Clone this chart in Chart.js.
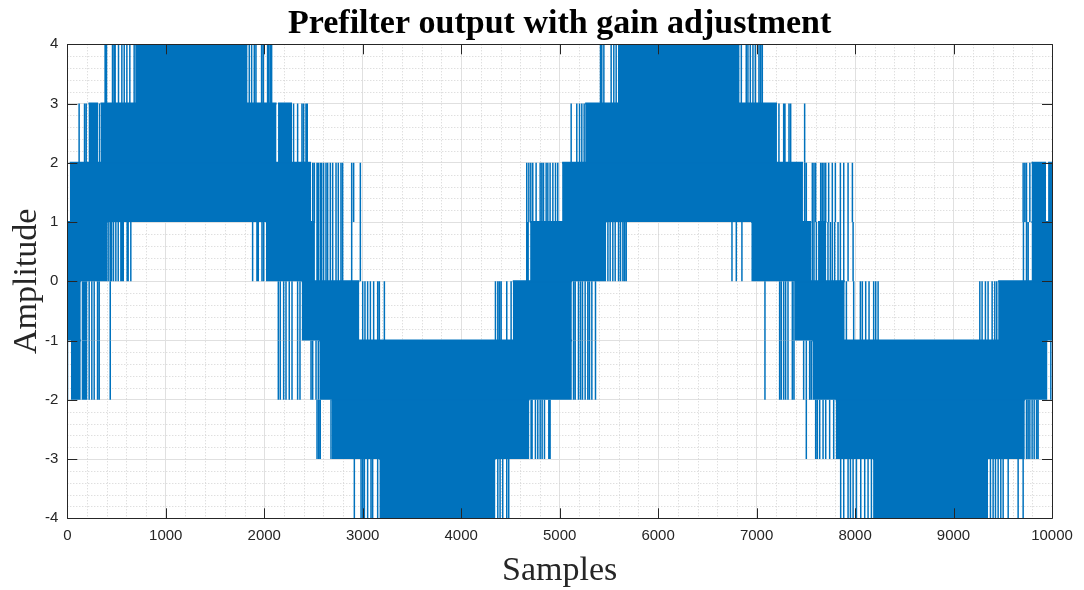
<!DOCTYPE html>
<html>
<head>
<meta charset="utf-8">
<script src="https://cdn.jsdelivr.net/npm/chart.js@4.4.0/dist/chart.umd.min.js"></script>
<style>
  body { margin: 0; background: #fff; }
</style>
</head>
<body>
<canvas id="prefilter" width="1084" height="590"></canvas>
<script>
// Quantised prefilter output, split per unit step of the quantiser.
// fillXX  : sample ranges where the signal toggles so fast the step is solid
// spikeXX : single samples that jump across the step at the edges of a run
const fillP3 = [[689, 1831], [5591, 6828]];
const spikeP3 = [384, 398, 459, 476, 486, 520, 554, 578, 605, 635, 679,
  1848, 1872, 1899, 1916, 1973, 1990, 2034, 2044, 2061, 2075,
  5415, 5428, 5449, 5523, 5550, 5574,
  6845, 6895, 6912, 6936, 6963, 6987, 7024, 7041, 7058];

const fillP2 = [[215, 313], [337, 2125], [2140, 2282], [5259, 7207]];
const spikeP2 = [120, 175, 192, 327,
  2298, 2339, 2383, 2400, 2424, 2437,
  5117, 5174, 5202, 5225, 5249,
  7227, 7275, 7288, 7329, 7346, 7488];

const fillP1 = [[25, 2475], [5025, 7471], [9792, 9940], [9960, 10000]];
const spikeP1 = [2492, 2509, 2536, 2549, 2569, 2583, 2603, 2627, 2644, 2671, 2695,
  2729, 2752, 2779, 2796, 2888, 2908, 2976,
  4666, 4687, 4707, 4727, 4761, 4802, 4819, 4836, 4863, 4880, 4903, 4931, 4958, 4981,
  7488, 7505, 7566, 7583, 7600, 7651, 7668, 7685, 7702, 7732, 7769, 7800, 7851,
  7885, 7929, 7973,
  9707, 9724, 9741, 9775];

const fill0 = [[0, 408], [2017, 2515], [4700, 5473], [6946, 7556], [7624, 7708], [9792, 10000]];
const spike0 = [415, 435, 449, 469, 493, 517, 544, 554, 568, 608, 618, 645,
  1882, 1926, 1939, 1977, 1994,
  2536, 2549, 2569, 2583, 2603, 2627, 2644, 2671, 2695, 2729, 2752, 2779, 2796, 2888, 2976,
  4666, 4680,
  5490, 5513, 5540, 5564, 5598, 5618, 5642, 5659, 5676,
  6750, 6794, 6851,
  7566, 7583, 7607, 7725, 7749, 7769, 7793, 7827, 7851, 7885, 7929, 7980,
  9710, 9741, 9758];

const fillN1 = [[2, 137], [2380, 2966], [4524, 5124], [7387, 7895], [9453, 10000]];
const spikeN1 = [154, 168, 181, 195, 222, 249, 273, 307, 324, 436,
  2143, 2163, 2197, 2221, 2254, 2282, 2339, 2363,
  3000, 3023, 3050, 3078, 3111, 3152, 3169, 3220,
  4348, 4372, 4389, 4406, 4463, 4507,
  5141, 5158, 5191, 5212, 5232, 5259, 5286, 5303, 5327, 5364,
  7085, 7234, 7251, 7275, 7295, 7319, 7363, 7380,
  7912, 7986, 8054, 8074, 8108, 8142, 8189, 8210, 8234,
  9267, 9290, 9324, 9351, 9392, 9419, 9439];

const fillN2 = [[36, 137], [2559, 5124], [7566, 9954]];
const spikeN2 = [2, 154, 168, 181, 195, 222, 249, 273, 307, 324, 436,
  2143, 2163, 2197, 2221, 2254, 2282, 2339, 2363, 2475, 2492, 2526, 2549,
  5141, 5158, 5191, 5212, 5232, 5259, 5286, 5303, 5327, 5364,
  7085, 7234, 7251, 7275, 7295, 7319, 7363, 7380, 7478, 7505, 7539, 7556,
  9988];

const fillN3 = [[2685, 4693], [7803, 9724]];
const spikeN3 = [2536, 2553, 2569, 2678,
  4710, 4720, 4754, 4778, 4802, 4822, 4846, 4890, 4903,
  7505, 7600, 7617, 7641, 7675, 7702, 7742, 7783,
  9741, 9758, 9775, 9798, 9819, 9843, 9859];

const fillN4 = [[3169, 4348], [8183, 9351]];
const spikeN4 = [2915, 2983, 3000, 3017, 3050, 3084, 3101, 3152,
  4372, 4395, 4422, 4463, 4483,
  7854, 7885, 7929, 7953, 7980, 8014, 8058, 8098, 8132, 8166,
  9375, 9402, 9426, 9453, 9480, 9504, 9555, 9656, 9707];

const xTicks = [0, 1000, 2000, 3000, 4000, 5000, 6000, 7000, 8000, 9000, 10000];
const yTicks = [-4, -3, -2, -1, 0, 1, 2, 3, 4];

const blue = '#0072bd';
const axisColor = '#262626';

const bands = [
  { low: 3, runs: fillP3, spikes: spikeP3 },
  { low: 2, runs: fillP2, spikes: spikeP2 },
  { low: 1, runs: fillP1, spikes: spikeP1 },
  { low: 0, runs: fill0, spikes: spike0 },
  { low: -1, runs: fillN1, spikes: spikeN1 },
  { low: -2, runs: fillN2, spikes: spikeN2 },
  { low: -3, runs: fillN3, spikes: spikeN3 },
  { low: -4, runs: fillN4, spikes: spikeN4 }
];

const datasets = [];
bands.forEach(b => {
  // solid part: top edge of the step, filled down to its lower level
  // (2px edge hides the antialiasing seam where two steps meet)
  datasets.push({
    data: b.runs.flatMap(([from, to]) => [
      { x: from, y: b.low + 1 }, { x: to, y: b.low + 1 }, { x: to, y: null }
    ]),
    fill: { value: b.low },
    backgroundColor: blue,
    borderColor: blue,
    borderWidth: 2,
    pointRadius: 0
  });
  // isolated vertical strokes
  datasets.push({
    data: b.spikes.flatMap(s => [
      { x: s, y: b.low }, { x: s, y: b.low + 1 }, { x: s, y: null }
    ]),
    fill: false,
    borderColor: blue,
    borderWidth: 1.5,
    pointRadius: 0
  });
});

// dotted minor grid under the data, box with inward ticks on top
const frame = {
  id: 'frame',
  beforeDatasetsDraw(chart) {
    const { ctx, chartArea: a, scales: { x, y } } = chart;
    ctx.save();
    ctx.strokeStyle = '#d2d2d2';
    ctx.lineWidth = 1;
    ctx.setLineDash([1, 2]);
    ctx.beginPath();
    for (let v = 200; v < 10000; v += 200) {
      if (v % 1000 === 0) continue;
      const px = Math.round(x.getPixelForValue(v)) + 0.5;
      ctx.moveTo(px, a.top);
      ctx.lineTo(px, a.bottom);
    }
    for (let i = -19; i < 20; i++) {
      if (i % 5 === 0) continue;
      const py = Math.round(y.getPixelForValue(i / 5)) + 0.5;
      ctx.moveTo(a.left, py);
      ctx.lineTo(a.right, py);
    }
    ctx.stroke();
    ctx.restore();
  },
  afterDraw(chart) {
    const { ctx, chartArea: a, scales: { x, y } } = chart;
    const len = 10;
    ctx.save();
    ctx.strokeStyle = axisColor;
    ctx.lineWidth = 1;
    ctx.beginPath();
    ctx.rect(Math.round(a.left) + 0.5, Math.round(a.top) + 0.5,
      Math.round(a.right - a.left), Math.round(a.bottom - a.top));
    xTicks.forEach(v => {
      const px = Math.round(x.getPixelForValue(v)) + 0.5;
      ctx.moveTo(px, a.bottom); ctx.lineTo(px, a.bottom - len);
      ctx.moveTo(px, a.top); ctx.lineTo(px, a.top + len);
    });
    yTicks.forEach(v => {
      const py = Math.round(y.getPixelForValue(v)) + 0.5;
      ctx.moveTo(a.left, py); ctx.lineTo(a.left + len, py);
      ctx.moveTo(a.right, py); ctx.lineTo(a.right - len, py);
    });
    ctx.stroke();
    ctx.restore();
  }
};

new Chart(document.getElementById('prefilter'), {
  type: 'line',
  data: { datasets },
  plugins: [frame],
  options: {
    responsive: false,
    animation: false,
    events: [],
    layout: { padding: { left: 0, right: 32, top: 0, bottom: 0 } },
    plugins: {
      legend: { display: false },
      tooltip: { enabled: false },
      title: {
        display: true,
        text: 'Prefilter output with gain adjustment',
        fullSize: false,
        color: '#000',
        font: { family: 'Liberation Serif', size: 34, weight: 'bold', lineHeight: 1.1 },
        padding: { top: 5.7, bottom: 1.2 }
      }
    },
    scales: {
      x: {
        type: 'linear',
        min: 0,
        max: 10000,
        afterBuildTicks: s => { s.ticks = xTicks.map(v => ({ value: v })); },
        afterFit: s => { s.height = 71.7; },
        ticks: {
          callback: v => String(v),
          color: axisColor,
          padding: 9,
          maxRotation: 0,
          font: { family: 'Liberation Sans', size: 15 }
        },
        grid: { color: '#e0e0e0', lineWidth: 1, drawTicks: false },
        border: { display: false },
        title: {
          display: true,
          text: 'Samples',
          color: axisColor,
          font: { family: 'Liberation Serif', size: 34, lineHeight: 1.1 },
          padding: { top: 0, bottom: 0 }
        }
      },
      y: {
        min: -4,
        max: 4,
        afterBuildTicks: s => { s.ticks = yTicks.map(v => ({ value: v })); },
        afterFit: s => { s.width = 67.3; },
        ticks: {
          callback: v => String(v),
          color: axisColor,
          padding: 9,
          font: { family: 'Liberation Sans', size: 15 }
        },
        grid: { color: '#e0e0e0', lineWidth: 1, drawTicks: false },
        border: { display: false },
        title: {
          display: true,
          text: 'Amplitude',
          color: axisColor,
          font: { family: 'Liberation Serif', size: 34, lineHeight: 1.2 },
          padding: { top: 7, bottom: 0 }
        }
      }
    }
  }
});
</script>
</body>
</html>
